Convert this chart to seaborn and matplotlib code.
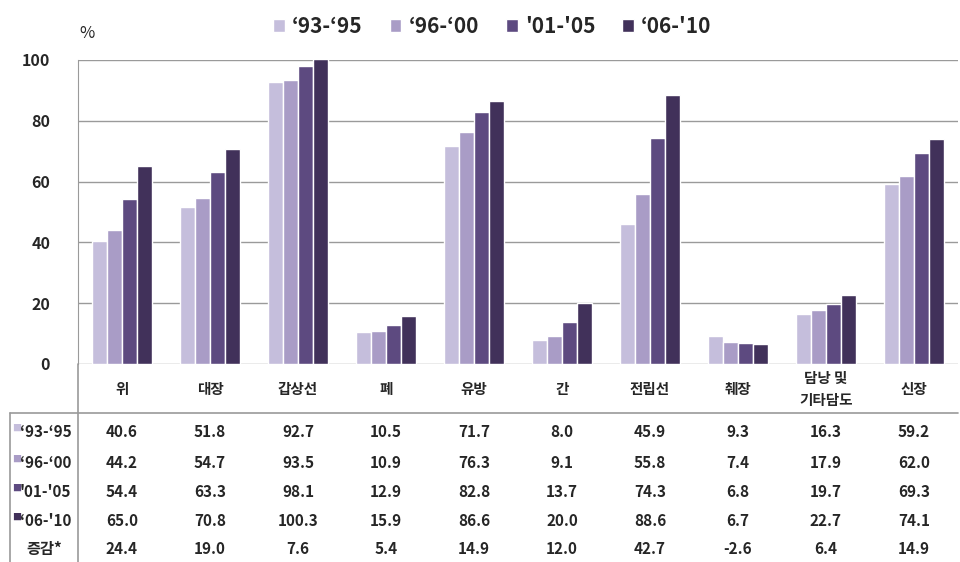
import matplotlib
matplotlib.use("Agg")
import matplotlib.pyplot as plt
import matplotlib.transforms as mtransforms
from matplotlib.lines import Line2D
import pandas as pd
import seaborn as sns

# --- data ---
categories = ["위", "대장", "갑상선", "폐", "유방", "간", "전립선", "췌장", "담낭 및\n기타담도", "신장"]
periods = ["‘93-‘95", "‘96-‘00", "'01-'05", "‘06-'10"]
v_93_95 = [40.6, 51.8, 92.7, 10.5, 71.7, 8.0, 45.9, 9.3, 16.3, 59.2]
v_96_00 = [44.2, 54.7, 93.5, 10.9, 76.3, 9.1, 55.8, 7.4, 17.9, 62.0]
v_01_05 = [54.4, 63.3, 98.1, 12.9, 82.8, 13.7, 74.3, 6.8, 19.7, 69.3]
v_06_10 = [65.0, 70.8, 100.3, 15.9, 86.6, 20.0, 88.6, 6.7, 22.7, 74.1]
change = [24.4, 19.0, 7.6, 5.4, 14.9, 12.0, 42.7, -2.6, 6.4, 14.9]
row_labels = ["‘93-‘95", "‘96-‘00", "'01-'05", "‘06-'10", "증감*"]
colors = ["#c5bedc", "#a99cc6", "#5d4a80", "#41315a"]

series = [v_93_95, v_96_00, v_01_05, v_06_10]
df = pd.DataFrame({
    "cat": categories * 4,
    "period": [p for p in periods for _ in categories],
    "value": [v for s in series for v in s],
})

sns.set_style("white")
plt.rcParams["font.family"] = ["Noto Sans CJK KR", "DejaVu Sans"]

fig = plt.figure(figsize=(9.6, 5.62), dpi=100)
ax = fig.add_axes([78 / 960, 1 - 364 / 562, 880 / 960, 304 / 562])

sns.barplot(data=df, x="cat", y="value", hue="period", order=categories,
            hue_order=periods, palette=colors, saturation=1, width=0.68,
            ax=ax, legend=True)

ax.set_ylim(0, 100)
ax.set_xlim(-0.5, len(categories) - 0.5)
ax.set_yticks([0, 20, 40, 60, 80, 100])
ax.set_yticklabels(["0", "20", "40", "60", "80", "100"], fontsize=11.5, fontweight="bold")
ax.tick_params(axis="y", length=0, pad=20)
ax.set_xticks([])
ax.set_xlabel("")
ax.set_ylabel("")
ax.yaxis.grid(True, color="#9a9a9a", linewidth=1)
ax.set_axisbelow(True)
for side in ["top", "right", "bottom"]:
    ax.spines[side].set_visible(False)
ax.spines["left"].set_color("#9a9a9a")

# legend on top
handles, labels = ax.get_legend_handles_labels()
ax.legend(handles, labels, loc="center", bbox_to_anchor=(0.513, 0.953),
          bbox_transform=fig.transFigure, ncol=4, frameon=False,
          prop={"size": 15, "weight": "bold"}, handlelength=0.55,
          handleheight=0.55, handletextpad=0.35, columnspacing=1.3)

fig.text(79 / 960, 1 - 33 / 562, "%", fontsize=12, ha="left", va="center")

# category labels and data table below the axis
trans = mtransforms.blended_transform_factory(ax.transData, fig.transFigure)
for i, c in enumerate(categories):
    ax.text(i, 1 - 389 / 562, c, transform=trans, ha="center", va="center",
            fontsize=10.5, fontweight="bold", linespacing=1.5)

row_y = [432, 463, 492, 521, 549]
rows = series + [change]
for r, (lab, vals, yp) in enumerate(zip(row_labels, rows, row_y)):
    yf = 1 - yp / 562
    if r < 4:
        fig.text(12 / 960, yf + 0.006, "■", color=colors[r], fontsize=6.5,
                 ha="left", va="center")
        fig.text(20 / 960, yf, lab, fontsize=11, fontweight="bold",
                 ha="left", va="center")
    else:
        fig.text(44 / 960, yf, lab, fontsize=11, fontweight="bold",
                 ha="center", va="center")
    for i, v in enumerate(vals):
        ax.text(i, yf, f"{v:.1f}", transform=trans, ha="center", va="center",
                fontsize=11, fontweight="bold")

# table border lines
line_c = "#9a9a9a"
fig.add_artist(Line2D([10 / 960, 958 / 960], [1 - 413 / 562] * 2,
                      transform=fig.transFigure, color=line_c, lw=1.2))
fig.add_artist(Line2D([10 / 960] * 2, [0, 1 - 413 / 562],
                      transform=fig.transFigure, color=line_c, lw=1.2))
fig.add_artist(Line2D([78 / 960] * 2, [0, 1 - 364 / 562],
                      transform=fig.transFigure, color=line_c, lw=1.2))

fig.savefig("out.png", dpi=100)
